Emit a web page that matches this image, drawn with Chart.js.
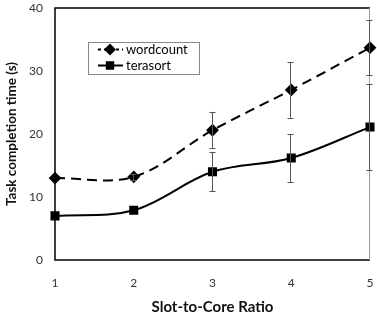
<!DOCTYPE html>
<html><head><meta charset="utf-8">
<script src="https://cdn.jsdelivr.net/npm/chart.js@4/dist/chart.umd.min.js"></script>
<style>html,body{margin:0;padding:0;background:#fff}#wrap{width:377px;height:320px}</style>
</head><body><div id="wrap"><canvas id="c" width="377" height="320"></canvas></div>
<script>
const ratios = [1, 2, 3, 4, 5];
const wordcount = [13.0, 13.2, 20.6, 27.0, 33.7];
const wordcountErr = [0, 0.5, 2.9, 4.4, 4.4];
const terasort = [7.0, 7.9, 14.0, 16.2, 21.1];
const terasortErr = [0, 0, 3.1, 3.8, 6.8];
const yTicks = [0, 10, 20, 30, 40];
const FONT = 'Lato, "Open Sans", sans-serif';

const errorBars = {
  id: 'errorBars',
  afterDatasetsDraw(chart) {
    const ctx = chart.ctx, xs = chart.scales.x, ys = chart.scales.y;
    const errs = [wordcountErr, terasortErr];
    ctx.save();
    ctx.strokeStyle = '#555';
    ctx.lineWidth = 1;
    chart.data.datasets.forEach((ds, i) => {
      ds.data.forEach((p, j) => {
        const e = errs[i][j];
        if (!e) return;
        const x = Math.round(xs.getPixelForValue(p.x)) - 0.5;
        const y1 = ys.getPixelForValue(p.y + e), y2 = ys.getPixelForValue(p.y - e);
        ctx.beginPath();
        ctx.moveTo(x, y1); ctx.lineTo(x, y2);
        ctx.moveTo(x - 3, Math.round(y1) + 0.5); ctx.lineTo(x + 3, Math.round(y1) + 0.5);
        ctx.moveTo(x - 3, Math.round(y2) + 0.5); ctx.lineTo(x + 3, Math.round(y2) + 0.5);
        ctx.stroke();
      });
    });
    ctx.restore();
  }
};

const frame = {
  id: 'frame',
  beforeDatasetsDraw(chart) {
    const ctx = chart.ctx, a = chart.chartArea;
    ctx.save();
    ctx.lineWidth = 1.5;
    ctx.strokeStyle = '#000';
    ctx.beginPath();
    ctx.moveTo(a.right, a.top); ctx.lineTo(a.left, a.top); ctx.lineTo(a.left, a.bottom); ctx.lineTo(a.right, a.bottom);
    ctx.stroke();
    ctx.strokeStyle = '#999';
    ctx.lineWidth = 1;
    ctx.beginPath(); ctx.moveTo(a.right - 0.5, a.top); ctx.lineTo(a.right - 0.5, a.bottom); ctx.stroke();
    ctx.restore();
  }
};

const boxLegend = {
  id: 'boxLegend',
  afterDraw(chart) {
    const ctx = chart.ctx;
    ctx.save();
    ctx.fillStyle = '#fff';
    ctx.fillRect(88, 42, 111, 32);
    ctx.strokeStyle = '#888';
    ctx.lineWidth = 1;
    ctx.strokeRect(88.5, 42.5, 111, 32);
    const items = [
      {label: 'wordcount', y: 49.5, dash: [3, 3], style: 'rectRot'},
      {label: 'terasort', y: 65.5, dash: [], style: 'rect'}
    ];
    items.forEach(it => {
      ctx.strokeStyle = '#000';
      ctx.lineWidth = 2;
      ctx.setLineDash(it.dash);
      ctx.beginPath(); ctx.moveTo(98, it.y); ctx.lineTo(123, it.y); ctx.stroke();
      ctx.setLineDash([]);
      Chart.helpers.drawPoint(ctx, {pointStyle: it.style, radius: 4.5, borderWidth: 1}, 110, it.y);
      ctx.fillStyle = '#000';
      ctx.fill();
      ctx.font = '13px ' + FONT;
      ctx.textBaseline = 'middle';
      ctx.textAlign = 'left';
      ctx.fillText(it.label, 126, it.y);
    });
    ctx.restore();
  }
};

new Chart(document.getElementById('c'), {
  type: 'line',
  data: {
    datasets: [
      {
        label: 'wordcount',
        data: ratios.map((r, i) => ({x: r, y: wordcount[i]})),
        borderColor: '#000', backgroundColor: '#000', borderWidth: 2,
        borderDash: [10, 6], tension: 0.35,
        pointStyle: 'rectRot', pointRadius: 5, pointBackgroundColor: '#000', pointBorderColor: '#000'
      },
      {
        label: 'terasort',
        data: ratios.map((r, i) => ({x: r, y: terasort[i]})),
        borderColor: '#000', backgroundColor: '#000', borderWidth: 2,
        tension: 0.35,
        pointStyle: 'rect', pointRadius: 5, pointBackgroundColor: '#000', pointBorderColor: '#000'
      }
    ]
  },
  options: {
    responsive: false, animation: false, clip: false,
    layout: {padding: {top: 8, right: 4, left: 0, bottom: 0}},
    plugins: {legend: {display: false}, tooltip: {enabled: false}},
    scales: {
      x: {
        type: 'linear', min: 1, max: 5,
        afterBuildTicks: s => { s.ticks = ratios.map(v => ({value: v})); },
        grid: {display: false, drawTicks: false},
        border: {display: false},
        ticks: {color: '#333', font: {family: FONT, size: 12}, padding: 16, maxRotation: 0},
        title: {display: true, text: 'Slot-to-Core Ratio', color: '#111', font: {family: FONT, size: 15, weight: 'bold'}, padding: {top: 7}},
        afterFit: s => { s.height = 60; s.paddingLeft = 0; s.paddingRight = 0; }
      },
      y: {
        min: 0, max: 40,
        afterBuildTicks: s => { s.ticks = yTicks.map(v => ({value: v})); },
        grid: {display: false, drawTicks: false},
        border: {display: false},
        ticks: {color: '#333', font: {family: FONT, size: 12}, padding: 12},
        title: {display: true, text: 'Task completion time (s)', color: '#111', font: {family: FONT, size: 13.5, weight: 'bold'}, padding: {bottom: 4}},
        afterFit: s => { s.width = 55; s.paddingTop = 0; s.paddingBottom = 0; }
      }
    }
  },
  plugins: [frame, errorBars, boxLegend]
});
</script></body></html>
